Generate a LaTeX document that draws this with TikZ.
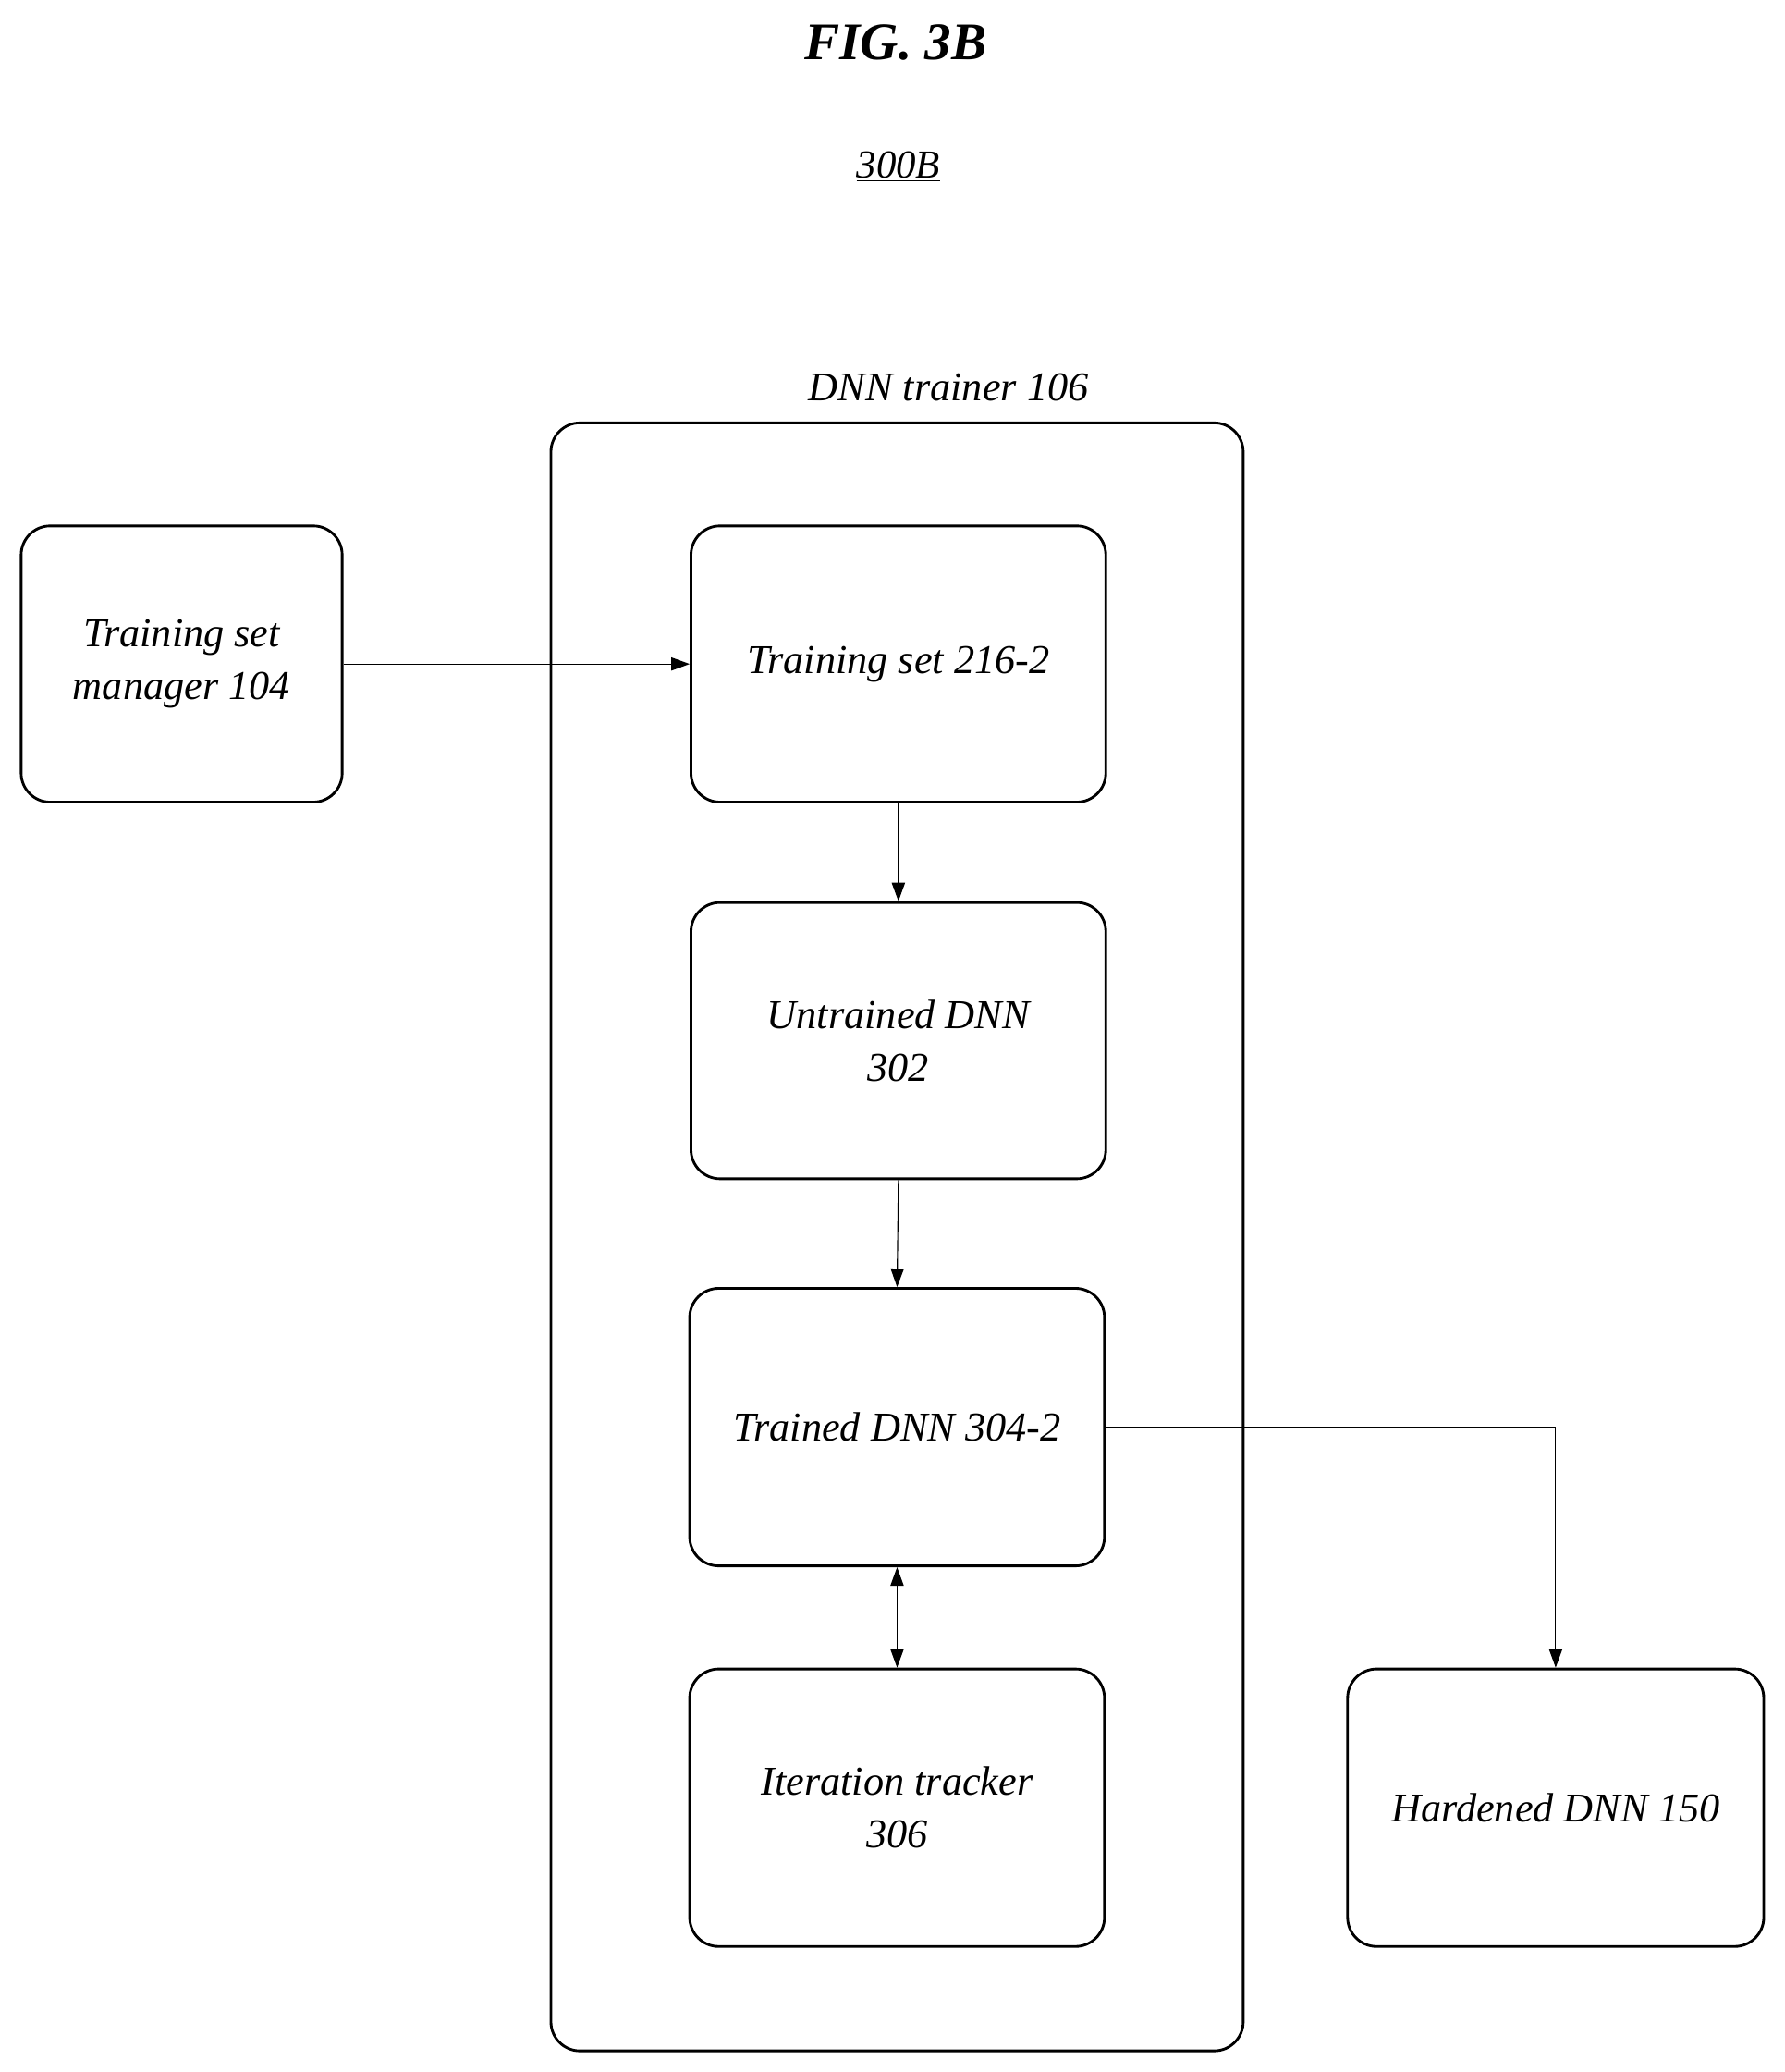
\documentclass[tikz,border=0pt]{standalone}
\usepackage{fontspec}
\setmainfont{Liberation Serif}
\usetikzlibrary{arrows.meta}
\begin{document}
\begin{tikzpicture}[x=1pt,y=-1pt,
  box/.style={draw,line width=2pt,rounded corners=22pt,align=center,font=\fontsize{31}{40}\selectfont\itshape},
  arr/.style={line width=0.8pt,-{Triangle[length=14pt,width=10pt]}}]
\useasboundingbox (0,0) rectangle (1351,1568);
\node[font=\fontsize{40}{48}\selectfont\bfseries\itshape] (title) at (678,32) {FIG. 3B};
\node[font=\fontsize{30}{36}\selectfont\itshape] (num) at (680,126) {\underline{300B}};
\node[font=\fontsize{31}{40}\selectfont\itshape] (dnnlab) at (718,293) {DNN trainer 106};
\draw[line width=2pt,rounded corners=22pt] (417,320) rectangle (941,1552);
\node[box,minimum width=243pt,minimum height=209pt] (tsm) at (137.5,502.5) {Training set\\manager 104};
\node[box,minimum width=314pt,minimum height=209pt] (ts) at (680,502.5) {Training set 216-2};
\node[box,minimum width=314pt,minimum height=209pt] (un) at (680,787.5) {Untrained DNN\\302};
\node[box,minimum width=314pt,minimum height=210pt] (tr) at (679,1080) {Trained DNN 304-2};
\node[box,minimum width=314pt,minimum height=210pt] (it) at (679,1368) {Iteration tracker\\306};
\node[box,minimum width=315pt,minimum height=210pt] (hd) at (1177.5,1368) {Hardened DNN 150};
\draw[arr] (tsm.east) -- (ts.west);
\draw[arr] (ts.south) -- (un.north);
\draw[arr] (un.south) -- (tr.north);
\draw[arr,{Triangle[length=14pt,width=10pt]}-{Triangle[length=14pt,width=10pt]}] (tr.south) -- (it.north);
\draw[arr] (tr.east) -| (hd.north);
\end{tikzpicture}
\end{document}
